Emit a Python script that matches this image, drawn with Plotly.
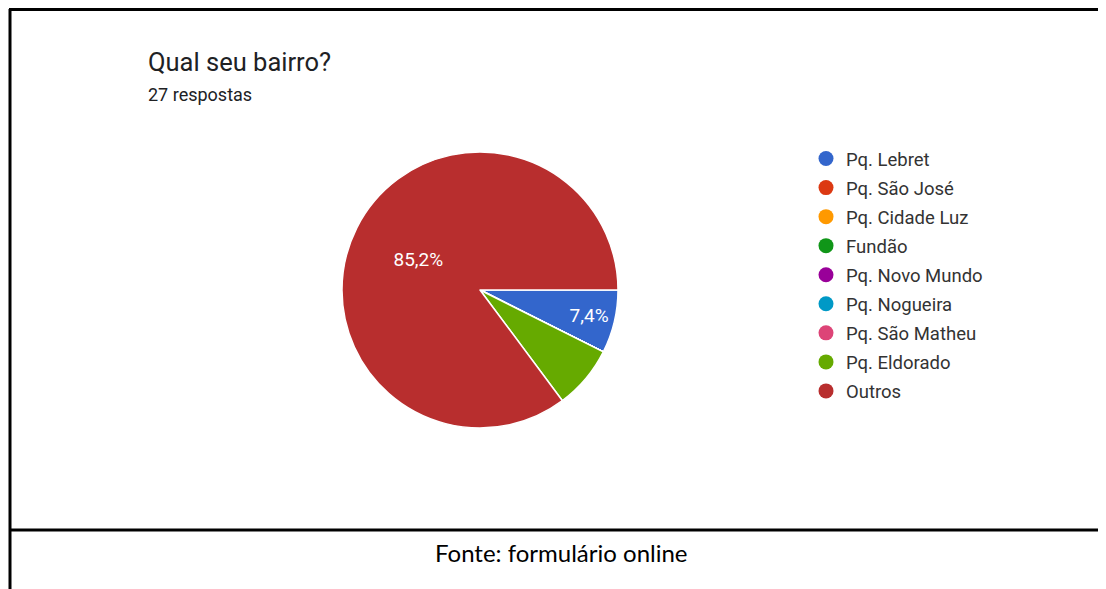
import plotly.graph_objects as go

categories = ["Pq. Lebret", "Pq. São José", "Pq. Cidade Luz", "Fundão", "Pq. Novo Mundo",
              "Pq. Nogueira", "Pq. São Matheu", "Pq. Eldorado", "Outros"]
counts = [2, 0, 0, 0, 0, 0, 0, 2, 23]
colors = ["#3366cc", "#dc3912", "#ff9900", "#109618", "#990099",
          "#0099c6", "#dd4477", "#66aa00", "#b82e2e"]
show_label = [True, False, False, False, False, False, False, False, True]

W, H = 1106, 589
OFF = 8  # page body margin offset


def px(x):
    return (x - OFF) / W


def py(y):
    return (H - (y - OFF)) / H


fig = go.Figure()
fig.add_trace(go.Pie(
    labels=categories, values=counts, sort=False, direction="clockwise", rotation=90,
    marker=dict(colors=colors, line=dict(color="white", width=1.5)),
    texttemplate=["%{percent:.1%}" if s else "" for s in show_label],
    textposition="inside", insidetextorientation="horizontal",
    textfont=dict(family="Roboto", size=19, color="white"),
    showlegend=False, hoverinfo="skip",
    domain=dict(x=[px(342), px(618)], y=[py(428), py(152)]),
))

for name, col in zip(categories, colors):
    fig.add_trace(go.Scatter(
        x=[None], y=[None], mode="markers", name=name, legendgroup=name,
        marker=dict(color=col, size=15, symbol="circle"), hoverinfo="skip",
    ))

fig.update_layout(
    width=W, height=H, margin=dict(l=0, r=0, t=0, b=0),
    paper_bgcolor="white", plot_bgcolor="white",
    separators=",.",
    xaxis=dict(visible=False), yaxis=dict(visible=False),
    showlegend=True,
    legend=dict(x=px(806), y=py(140), xanchor="left", yanchor="top",
                font=dict(family="Roboto", size=18.5, color="#333333"),
                tracegroupgap=2, traceorder="grouped", itemclick=False),
    annotations=[
        dict(text="Qual seu bairro?", x=px(146), y=py(62), xref="paper", yref="paper",
             xanchor="left", yanchor="middle", showarrow=False,
             font=dict(family="Roboto", size=25.5, color="#202124")),
        dict(text="27 respostas", x=px(146), y=py(95), xref="paper", yref="paper",
             xanchor="left", yanchor="middle", showarrow=False,
             font=dict(family="Roboto", size=18, color="#202124")),
        dict(text="Fonte: formulário online", x=px(561), y=py(552), xref="paper", yref="paper",
             xanchor="center", yanchor="middle", showarrow=False,
             font=dict(family="Lato", size=24, color="#000000")),
    ],
    shapes=[
        dict(type="line", xref="paper", yref="paper", x0=px(10), x1=px(10), y0=0, y1=py(9),
             line=dict(color="black", width=3)),
        dict(type="line", xref="paper", yref="paper", x0=px(9), x1=1, y0=py(9.5), y1=py(9.5),
             line=dict(color="black", width=3)),
        dict(type="line", xref="paper", yref="paper", x0=px(10), x1=1, y0=py(530), y1=py(530),
             line=dict(color="black", width=3)),
    ],
)

fig.write_html("out.html")
